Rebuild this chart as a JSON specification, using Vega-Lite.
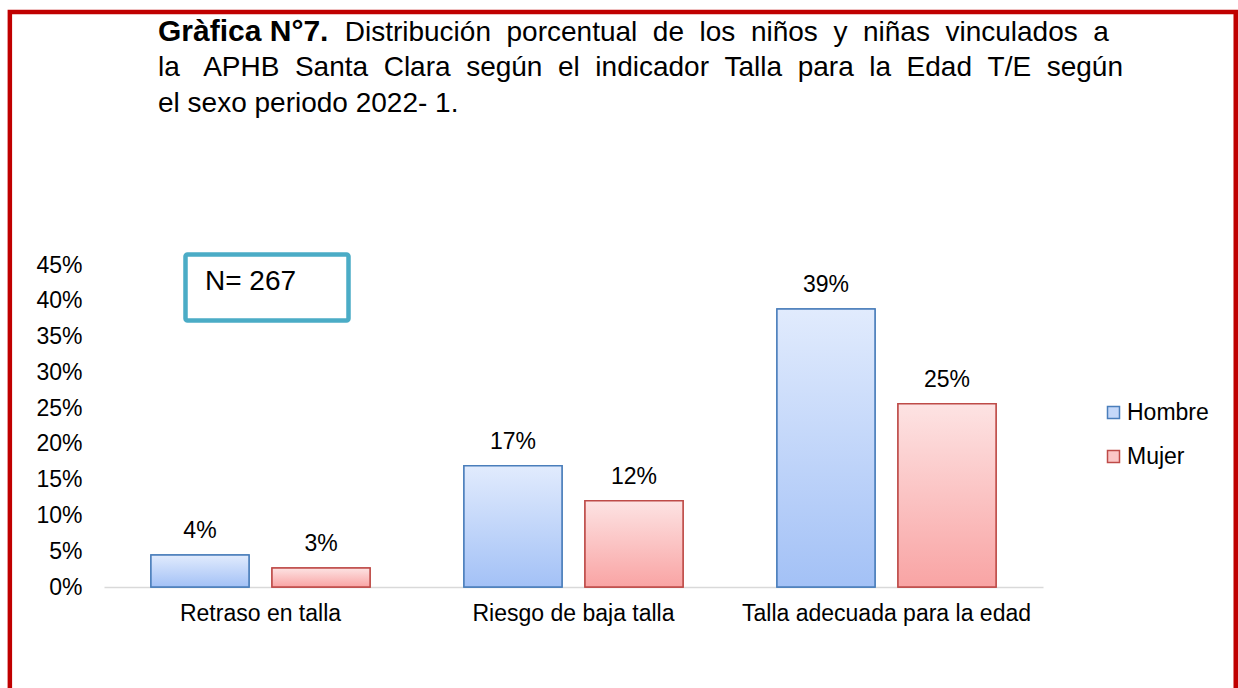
{
  "$schema": "https://vega.github.io/schema/vega-lite/v6.json",
  "width": 939,
  "height": 322,
  "autosize": {"type": "none"},
  "padding": {"left": 104, "top": 265, "right": 195, "bottom": 101},
  "background": "white",
  "config": {
    "view": {"stroke": null},
    "font": "Liberation Sans",
    "axis": {"labelFont": "Liberation Sans", "labelFontSize": 23, "labelColor": "#000000", "ticks": false, "grid": false, "labelOverlap": false, "labelLimit": 0}
  },
  "title": {
    "text": "Gràfica N°7.",
    "subtitle": [
      "\u200b\u00a0\u00a0\u00a0\u00a0\u00a0\u00a0\u00a0\u00a0\u00a0\u00a0\u00a0\u00a0\u00a0\u00a0\u00a0\u00a0\u00a0\u00a0\u00a0\u00a0\u00a0\u00a0\u00a0\u00a0Distribución\u00a0\u00a0porcentual\u00a0\u00a0de\u00a0\u00a0los\u00a0\u00a0niños\u00a0\u00a0y\u00a0\u00a0niñas\u00a0\u00a0vinculados\u00a0\u00a0a",
      "la\u00a0\u00a0\u00a0APHB\u00a0\u00a0Santa\u00a0\u00a0Clara\u00a0\u00a0según\u00a0\u00a0el\u00a0\u00a0indicador\u00a0\u00a0Talla\u00a0\u00a0para\u00a0\u00a0la\u00a0\u00a0Edad\u00a0\u00a0T/E\u00a0\u00a0según",
      "el sexo periodo 2022- 1."
    ],
    "anchor": "start",
    "frame": "group",
    "dx": 54,
    "offset": -108,
    "font": "Liberation Sans",
    "fontSize": 30,
    "fontWeight": "bold",
    "color": "#000000",
    "baseline": "top",
    "subtitleFont": "Liberation Sans",
    "subtitleFontSize": 28,
    "subtitleFontWeight": "normal",
    "subtitleColor": "#000000",
    "subtitleLineHeight": 35.5,
    "subtitlePadding": -28
  },
  "data": {
    "values": [
      {"categoria": "Retraso en talla", "sexo": "Hombre", "valor": 4.47, "etiqueta": "4%"},
      {"categoria": "Retraso en talla", "sexo": "Mujer", "valor": 2.65, "etiqueta": "3%"},
      {"categoria": "Riesgo de baja talla", "sexo": "Hombre", "valor": 16.95, "etiqueta": "17%"},
      {"categoria": "Riesgo de baja talla", "sexo": "Mujer", "valor": 12.06, "etiqueta": "12%"},
      {"categoria": "Talla adecuada para la edad", "sexo": "Hombre", "valor": 38.85, "etiqueta": "39%"},
      {"categoria": "Talla adecuada para la edad", "sexo": "Mujer", "valor": 25.6, "etiqueta": "25%"}
    ]
  },
  "layer": [
    {
      "mark": {"type": "bar", "strokeWidth": 1.5},
      "encoding": {
        "x": {
          "field": "categoria", "type": "nominal",
          "sort": ["Retraso en talla", "Riesgo de baja talla", "Talla adecuada para la edad"],
          "scale": {"paddingInner": 0.3, "paddingOuter": 0.15},
          "axis": {"title": null, "labelAngle": 0, "domainColor": "#d9d9d9", "domainWidth": 1.5, "labelPadding": 15, "ticks": false, "labelLimit": 0}
        },
        "xOffset": {"field": "sexo", "type": "nominal", "sort": ["Hombre", "Mujer"], "scale": {"paddingInner": 0.19, "paddingOuter": 0}},
        "y": {
          "field": "valor", "type": "quantitative",
          "scale": {"domain": [0, 45], "nice": false},
          "axis": {"title": null, "domain": false, "ticks": false, "values": [0, 5, 10, 15, 20, 25, 30, 35, 40, 45], "labelExpr": "datum.value + '%'", "labelPadding": 22, "labelOverlap": false}
        },
        "fill": {
          "field": "sexo", "type": "nominal",
          "scale": {"domain": ["Hombre", "Mujer"], "range": ["#c5d8f9", "#fbc6c6"]},
          "legend": {"title": null, "orient": "none", "legendX": 998, "legendY": 136, "symbolType": "square", "symbolSize": 144, "symbolStrokeWidth": 1.5, "labelFont": "Liberation Sans", "labelFontSize": 23, "labelColor": "#000000", "labelOffset": 2, "rowPadding": 20, "padding": 0}
        },
        "stroke": {
          "field": "sexo", "type": "nominal",
          "scale": {"domain": ["Hombre", "Mujer"], "range": ["#4a7ebb", "#be4b48"]},
          "legend": {"title": null, "orient": "none", "legendX": 998, "legendY": 136, "symbolType": "square", "symbolSize": 144, "symbolStrokeWidth": 1.5, "labelFont": "Liberation Sans", "labelFontSize": 23, "labelColor": "#000000", "labelOffset": 2, "rowPadding": 20, "padding": 0}
        }
      }
    },
    {
      "mark": {"type": "bar", "strokeWidth": 1.5},
      "encoding": {
        "x": {"field": "categoria", "type": "nominal", "sort": ["Retraso en talla", "Riesgo de baja talla", "Talla adecuada para la edad"], "axis": {"title": null, "labelAngle": 0, "domainColor": "#d9d9d9", "domainWidth": 1.5, "labelPadding": 15, "ticks": false, "labelLimit": 0}},
        "xOffset": {"field": "sexo", "type": "nominal", "sort": ["Hombre", "Mujer"]},
        "y": {"field": "valor", "type": "quantitative", "axis": {"title": null, "domain": false, "ticks": false, "values": [0, 5, 10, 15, 20, 25, 30, 35, 40, 45], "labelExpr": "datum.value + '%'", "labelPadding": 22, "labelOverlap": false}},
        "fill": {
          "condition": {
            "test": "datum.sexo === 'Hombre'",
            "value": {"gradient": "linear", "x1": 0, "y1": 0, "x2": 0, "y2": 1, "stops": [{"offset": 0, "color": "#e1ebfd"}, {"offset": 1, "color": "#a3c1f6"}]}
          },
          "value": {"gradient": "linear", "x1": 0, "y1": 0, "x2": 0, "y2": 1, "stops": [{"offset": 0, "color": "#fde3e3"}, {"offset": 1, "color": "#f9a4a4"}]}
        },
        "stroke": {
          "condition": {"test": "datum.sexo === 'Hombre'", "value": "#4a7ebb"},
          "value": "#be4b48"
        }
      }
    },
    {
      "mark": {"type": "text", "baseline": "middle", "dy": -24, "fontSize": 23, "font": "Liberation Sans", "color": "#000000"},
      "encoding": {
        "x": {"field": "categoria", "type": "nominal", "sort": ["Retraso en talla", "Riesgo de baja talla", "Talla adecuada para la edad"], "axis": {"title": null, "labelAngle": 0, "domainColor": "#d9d9d9", "domainWidth": 1.5, "labelPadding": 15, "ticks": false, "labelLimit": 0}},
        "xOffset": {"field": "sexo", "type": "nominal", "sort": ["Hombre", "Mujer"]},
        "y": {"field": "valor", "type": "quantitative", "axis": {"title": null, "domain": false, "ticks": false, "values": [0, 5, 10, 15, 20, 25, 30, 35, 40, 45], "labelExpr": "datum.value + '%'", "labelPadding": 22, "labelOverlap": false}},
        "text": {"field": "etiqueta"}
      }
    },
    {
      "data": {"values": [{"nota": "N= 267"}]},
      "mark": {"type": "bar", "width": 163, "xOffset": 6.5, "fill": "#ffffff", "stroke": "#4bacc6", "strokeWidth": 4.5, "cornerRadius": 2},
      "encoding": {
        "x": {"datum": "Retraso en talla", "type": "nominal", "axis": {"title": null, "labelAngle": 0, "domainColor": "#d9d9d9", "domainWidth": 1.5, "labelPadding": 15, "ticks": false, "labelLimit": 0}},
        "y": {"datum": 46.47, "type": "quantitative", "axis": {"title": null, "domain": false, "ticks": false, "values": [0, 5, 10, 15, 20, 25, 30, 35, 40, 45], "labelExpr": "datum.value + '%'", "labelPadding": 22, "labelOverlap": false}},
        "y2": {"datum": 37.24}
      }
    },
    {
      "data": {"values": [{"nota": "N= 267"}]},
      "mark": {"type": "text", "align": "left", "baseline": "middle", "dx": -55.5, "fontSize": 28, "font": "Liberation Sans", "color": "#000000"},
      "encoding": {
        "x": {"datum": "Retraso en talla", "type": "nominal", "axis": {"title": null, "labelAngle": 0, "domainColor": "#d9d9d9", "domainWidth": 1.5, "labelPadding": 15, "ticks": false, "labelLimit": 0}},
        "y": {"datum": 42.62, "type": "quantitative", "axis": {"title": null, "domain": false, "ticks": false, "values": [0, 5, 10, 15, 20, 25, 30, 35, 40, 45], "labelExpr": "datum.value + '%'", "labelPadding": 22, "labelOverlap": false}},
        "text": {"field": "nota"}
      }
    },
    {
      "data": {"values": [{"marco": "borde"}]},
      "mark": {"type": "rect", "filled": false, "stroke": "#c00000", "strokeWidth": 4.5},
      "encoding": {
        "x": {"datum": "Retraso en talla", "type": "nominal", "bandPosition": -0.644, "axis": {"title": null, "labelAngle": 0, "domainColor": "#d9d9d9", "domainWidth": 1.5, "labelPadding": 15, "ticks": false, "labelLimit": 0}},
        "x2": {"datum": "Talla adecuada para la edad", "bandPosition": 2.094},
        "y": {"datum": 80.36, "type": "quantitative", "axis": {"title": null, "domain": false, "ticks": false, "values": [0, 5, 10, 15, 20, 25, 30, 35, 40, 45], "labelExpr": "datum.value + '%'", "labelPadding": 22, "labelOverlap": false}},
        "y2": {"datum": -20}
      }
    }
  ]
}
